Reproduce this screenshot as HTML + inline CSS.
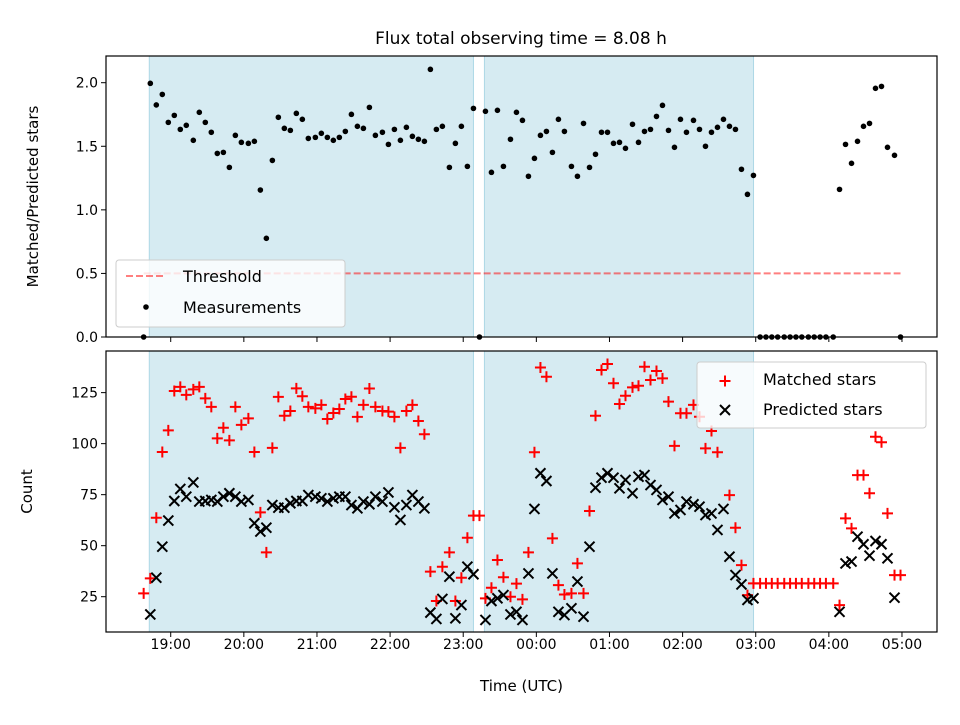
<!DOCTYPE html>
<html><head><meta charset="utf-8"><style>
html,body{margin:0;padding:0;background:#fff;}
svg text{font-family:"DejaVu Sans","Liberation Sans",sans-serif;fill:#000;}
</style></head><body>
<svg id="chart" xmlns="http://www.w3.org/2000/svg" width="960" height="720" viewBox="0 0 960 720">
<rect width="960" height="720" fill="#fff"/>
<text x="521" y="44" font-size="17" text-anchor="middle">Flux total observing time = 8.08 h</text>
<g id="topPanel"></g><g id="botPanel"></g>
</svg>
<script>
// time grid, hours since 19:00 UTC
const timesA = [-0.37,-0.279,-0.197,-0.115,-0.033,0.049,0.131,0.213,0.309,0.391,0.473,0.555,0.637,0.72,0.802,0.884,0.966,1.062,1.144,1.226,1.308,1.39,1.472,1.554,1.636,1.718,1.8,1.882,1.978,2.06,2.142,2.224,2.306,2.388,2.471,2.553,2.635,2.717,2.799,2.895,2.977,3.059,3.141,3.223,3.305,3.387,3.469,3.551,3.633,3.715,3.811,3.893,3.975,4.057,4.14,4.222];
const timesB = [4.304,4.386,4.468,4.55,4.646,4.728,4.81,4.892,4.974,5.056,5.138,5.22,5.302,5.384,5.48,5.562,5.645,5.727,5.809,5.891,5.973,6.055,6.137,6.219,6.315,6.397,6.479,6.561,6.643,6.725,6.807,6.889,6.971,7.053,7.149,7.231,7.313,7.395,7.477,7.559,7.641,7.723,7.805,7.887,7.969];
const timesC = [8.06,8.14,8.22,8.30,8.39,8.47,8.55,8.63,8.72,8.80,8.88,8.96,9.06,9.146,9.228,9.31,9.392,9.474,9.556,9.638,9.72,9.802,9.898,9.98];
const ratioA = [0,1.995,1.825,1.908,1.688,1.743,1.633,1.665,1.547,1.767,1.688,1.610,1.444,1.452,1.334,1.586,1.531,1.523,1.539,1.156,0.776,1.389,1.728,1.641,1.625,1.759,1.712,1.562,1.570,1.602,1.570,1.547,1.570,1.617,1.751,1.657,1.641,1.806,1.586,1.610,1.515,1.633,1.547,1.649,1.578,1.555,1.539,2.105,1.633,1.657,1.334,1.523,1.657,1.342,1.798,0];
const ratioB = [1.775,1.295,1.783,1.342,1.555,1.767,1.704,1.264,1.405,1.586,1.617,1.452,1.712,1.617,1.342,1.264,1.680,1.334,1.437,1.610,1.610,1.523,1.531,1.484,1.673,1.531,1.617,1.633,1.735,1.822,1.625,1.492,1.712,1.610,1.704,1.633,1.500,1.610,1.649,1.712,1.657,1.633,1.319,1.122,1.271];
const ratioC = [0,0,0,0,0,0,0,0,0,0,0,0,0,1.161,1.515,1.366,1.539,1.657,1.680,1.956,1.971,1.492,1.429,0];
const matchedA = [26.6,34,63.7,95.9,106.5,125.8,127.8,123.9,126.6,127.8,122.2,118,102.6,107.8,101.6,118,109.2,112.4,95.9,66.3,46.7,97.9,122.9,113.7,116,127.1,123.2,118,117.3,119,112.1,115,117,121.9,123,113.1,119,127,118,116,115.7,113.1,97.9,116,119,111.1,104.6,37.3,22.9,39.7,46.7,22.9,34.3,53.9,64.7,64.7];
const matchedB = [24.2,29.4,43,34.5,25,31.4,23.7,46.7,95.8,137.3,132.8,53.6,30.7,26.1,26.6,41.3,26.6,67,113.7,136.1,139,129.6,119.4,123.5,127.6,128.4,137.7,131.2,135.6,132,120.6,98.9,114.9,114.9,119,113.2,97.7,106.2,95.8,null,74.8,58.8,40.5,25.8,31.5];
const matchedC = [31.5,31.5,31.5,31.5,31.5,31.5,31.5,31.5,31.5,31.5,31.5,31.5,31.5,20.9,63.4,58.5,84.6,84.6,75.7,103.4,100.7,65.8,35.6,35.6];
const predA = [null,16.3,34.3,49.5,62.3,71.9,77.8,74,81,71.6,71.9,72.4,71.6,74,75.7,74,71.6,72.4,61,56.9,58.8,69.9,68.6,68.6,70.8,71.9,71.9,74.8,74,73.2,71.6,73.2,74,74,69.9,68.3,71.6,70.3,74,71.6,76.1,68.8,62.6,69.9,74.8,71.6,68.3,17.2,14.1,23.9,34.8,14.4,20.9,39.7,36,null];
const predB = [13.6,22.9,24.2,25.8,16.3,17.6,13.6,36.4,68,85.5,81.7,36.4,17.6,16,19.3,32.4,15.2,49.5,78.4,83.3,85.5,83.3,78.1,82.2,75.7,83.8,84.6,79.7,77.3,72.4,74,65.8,67.5,71.6,70.3,69.1,65,65.8,57.7,68,44.6,35.6,31,23.4,24.2];
const predC = [null,null,null,null,null,null,null,null,null,null,null,null,null,17.6,41.3,42.2,54.4,50.7,45.1,52.3,50.7,43.8,24.5,null];
const spans = [[-0.293,4.14],[4.29,7.97]];
const threshold = 0.5;
const thresholdRange = [-0.37,9.98];
const xTicks = [0,1,2,3,4,5,6,7,8,9,10];
const xTickLabels = ["19:00","20:00","21:00","22:00","23:00","00:00","01:00","02:00","03:00","04:00","05:00"];
const topTicks = [0,0.5,1,1.5,2];
const topTickLabels = ["0.0","0.5","1.0","1.5","2.0"];
const botTicks = [25,50,75,100,125];

const times = timesA.concat(timesB, timesC);
const ratio = ratioA.concat(ratioB, ratioC);
const matched = matchedA.concat(matchedB, matchedC);
const pred = predA.concat(predB, predC);

const NS = "http://www.w3.org/2000/svg";
const L = 106, R = 937;
const x0 = -0.885, x1 = 10.479;
const X = h => L + (h - x0) / (x1 - x0) * (R - L);
const TT = 56, TB = 337, BT = 351, BB = 632;
const Yt = v => TB - v / 2.21 * (TB - TT);
const yb0 = 7.7, yb1 = 145.4;
const Yb = v => BB - (v - yb0) / (yb1 - yb0) * (BB - BT);

function mk(tag, attrs, parent) {
  const e = document.createElementNS(NS, tag);
  for (const k in attrs) e.setAttribute(k, attrs[k]);
  parent.appendChild(e);
  return e;
}
const topG = document.getElementById('topPanel');
const botG = document.getElementById('botPanel');

function panel(g, T, B, nm) {
  spans.forEach((s, i) => {
    const r = mk('rect', {x: X(s[0]), y: T, width: X(s[1]) - X(s[0]), height: B - T, fill: '#add8e6', 'fill-opacity': 0.5, stroke: '#add8e6', 'stroke-width': 1}, g);
    
    
  });
  xTicks.forEach(t => {
    const tk = mk('line', {x1: X(t), x2: X(t), y1: B, y2: B + 5, stroke: '#000', 'stroke-width': 1}, g);
    
    
  });
}
panel(topG, TT, TB, 'top');
panel(botG, BT, BB, 'bottom');

topTicks.forEach((t, i) => {
  const y = Yt(t);
  const tk = mk('line', {x1: L - 5, x2: L, y1: y, y2: y, stroke: '#000'}, topG);
  
  
  const tx = mk('text', {x: L - 8, y: y + 5, 'font-size': 14, 'text-anchor': 'end'}, topG);
  tx.textContent = topTickLabels[i];
  
  
});
botTicks.forEach(t => {
  const y = Yb(t);
  const tk = mk('line', {x1: L - 5, x2: L, y1: y, y2: y, stroke: '#000'}, botG);
  
  
  const tx = mk('text', {x: L - 8, y: y + 5, 'font-size': 14, 'text-anchor': 'end'}, botG);
  tx.textContent = String(t);
  
  
});
xTicks.forEach((t, i) => {
  const tx = mk('text', {x: X(t), y: BB + 17, 'font-size': 14, 'text-anchor': 'middle'}, botG);
  tx.textContent = xTickLabels[i];
  
  
});

const th = mk('line', {x1: X(thresholdRange[0]), x2: X(thresholdRange[1]), y1: Yt(threshold), y2: Yt(threshold), stroke: '#ff0000', 'stroke-opacity': 0.5, 'stroke-width': 2, 'stroke-dasharray': '7,3'}, topG);



times.forEach((t, i) => {
  if (ratio[i] == null) return;
  const c = mk('circle', {cx: X(t), cy: Yt(ratio[i]), r: 2.8, fill: '#000'}, topG);
  
  
});
times.forEach((t, i) => {
  if (matched[i] == null) return;
  const x = X(t), y = Yb(matched[i]);
  const p = mk('path', {d: `M${x-5.5},${y}H${x+5.5}M${x},${y-5.5}V${y+5.5}`, stroke: '#ff0000', 'stroke-width': 2, fill: 'none'}, botG);
  
  
});
times.forEach((t, i) => {
  if (pred[i] == null) return;
  const x = X(t), y = Yb(pred[i]);
  const p = mk('path', {d: `M${x-5},${y-5}L${x+5},${y+5}M${x-5},${y+5}L${x+5},${y-5}`, stroke: '#000', 'stroke-width': 2, fill: 'none'}, botG);
  
  
});

[[topG, TT, TB, 'top-axes-frame'], [botG, BT, BB, 'bottom-axes-frame']].forEach(a => {
  const f = mk('rect', {x: L, y: a[1], width: R - L, height: a[2] - a[1], fill: 'none', stroke: '#000', 'stroke-width': 1.2}, a[0]);
  
  
});

const yl1 = mk('text', {x: 0, y: 0, 'font-size': 15, 'text-anchor': 'middle', transform: `translate(38,${(TT+TB)/2}) rotate(-90)`}, topG);
yl1.textContent = 'Matched/Predicted stars';


const yl2 = mk('text', {x: 0, y: 0, 'font-size': 15, 'text-anchor': 'middle', transform: `translate(32,${(BT+BB)/2}) rotate(-90)`}, botG);
yl2.textContent = 'Count';


const xl = mk('text', {x: (L+R)/2, y: 691, 'font-size': 15, 'text-anchor': 'middle'}, botG);
xl.textContent = 'Time (UTC)';



const lg1 = mk('g', {}, topG);


mk('rect', {x: 116, y: 260, width: 229, height: 67, rx: 3, fill: '#fff', 'fill-opacity': 0.8, stroke: '#ccc'}, lg1);
mk('line', {x1: 126, x2: 166, y1: 276, y2: 276, stroke: '#ff0000', 'stroke-opacity': 0.5, 'stroke-width': 2, 'stroke-dasharray': '7,3'}, lg1);
const t1 = mk('text', {x: 183, y: 282, 'font-size': 16}, lg1);
t1.textContent = 'Threshold';


mk('circle', {cx: 146, cy: 307, r: 2.8, fill: '#000'}, lg1);
const t2 = mk('text', {x: 183, y: 313, 'font-size': 16}, lg1);
t2.textContent = 'Measurements';



const lg2 = mk('g', {}, botG);


mk('rect', {x: 697, y: 362, width: 229, height: 66, rx: 3, fill: '#fff', 'fill-opacity': 0.8, stroke: '#ccc'}, lg2);
mk('path', {d: 'M719.5,381H730.5M725,375.5V386.5', stroke: '#ff0000', 'stroke-width': 2}, lg2);
const t3 = mk('text', {x: 763, y: 385, 'font-size': 16}, lg2);
t3.textContent = 'Matched stars';


mk('path', {d: 'M720,405L730,415M720,415L730,405', stroke: '#000', 'stroke-width': 2}, lg2);
const t4 = mk('text', {x: 763, y: 415, 'font-size': 16}, lg2);
t4.textContent = 'Predicted stars';


</script>
</body></html>
